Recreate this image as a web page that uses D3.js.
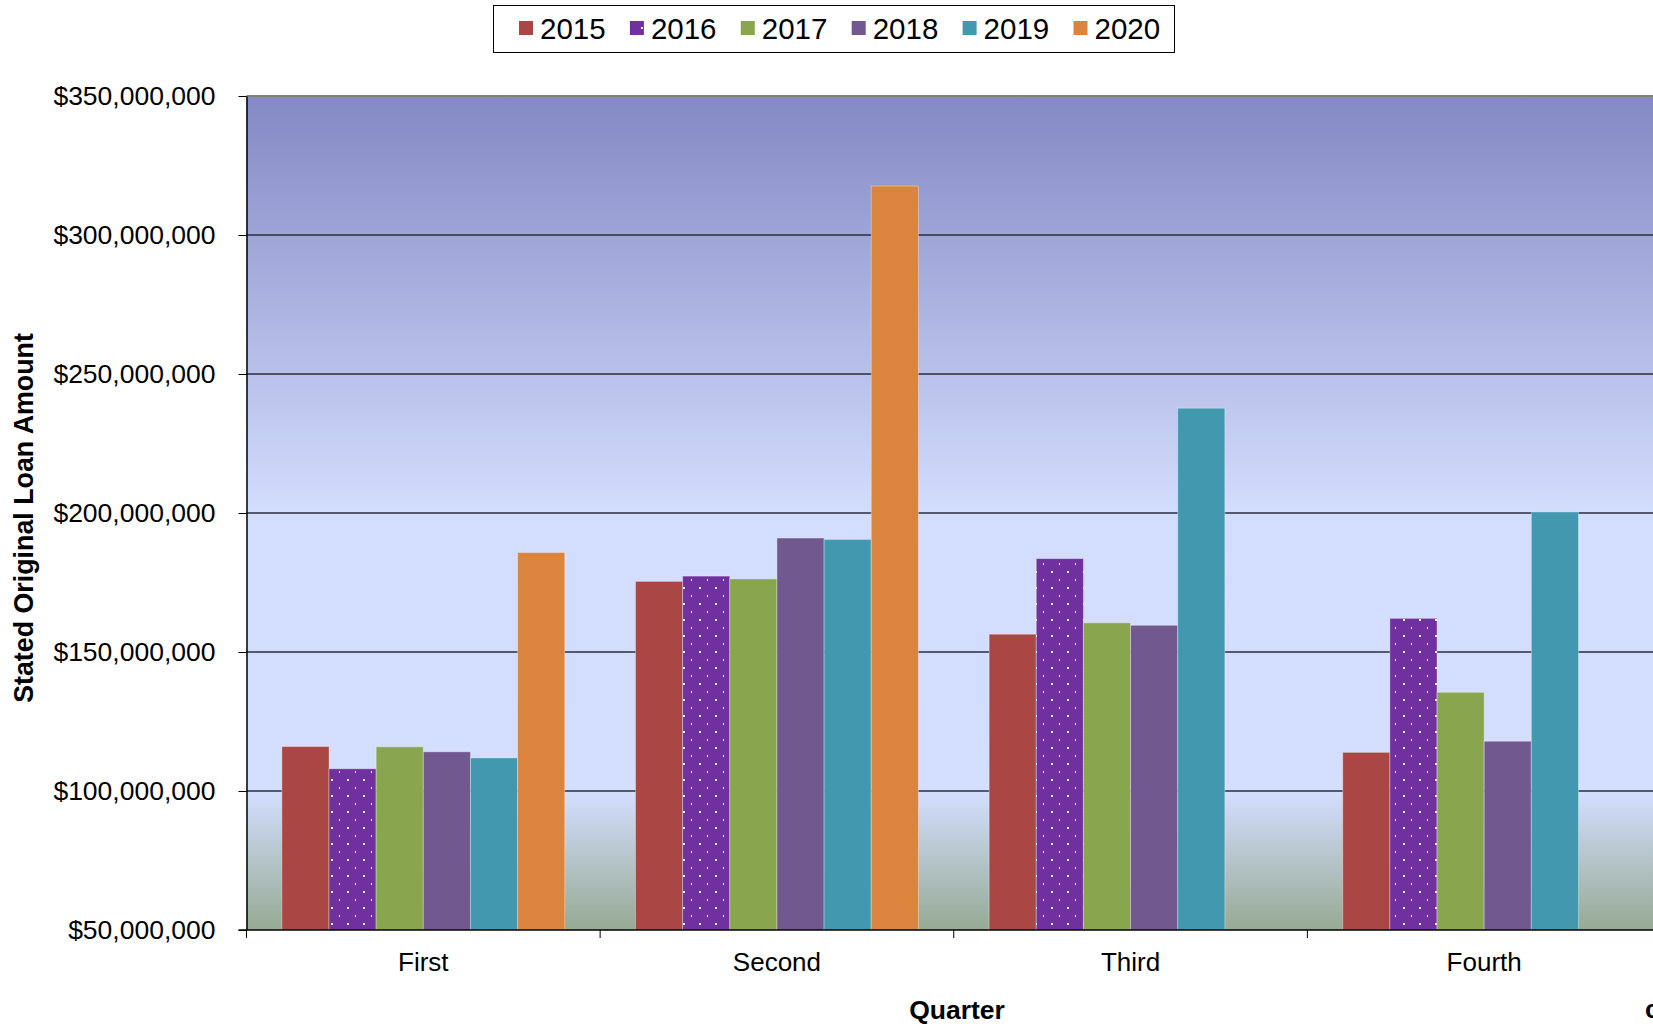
<!DOCTYPE html>
<html>
<head>
<meta charset="utf-8">
<script src="https://cdn.jsdelivr.net/npm/d3@7"></script>
<style>
  html, body { margin: 0; padding: 0; background: #fff; overflow: hidden; }
  svg { display: block; font-family: "Liberation Sans", Arial, sans-serif; }
</style>
</head>
<body>
<div id="canvas"><svg></svg></div>
<script>
var quarters = ["First", "Second", "Third", "Fourth"];
var years = ["2015", "2016", "2017", "2018", "2019", "2020"];
var colors = ["#AA4643", "#7030A0", "#89A54E", "#71588F", "#4198AF", "#DB843D"];

// stated original loan amount, one array per year (First..Fourth), null = no bar
var y2015 = [116.0e6, 175.4e6, 156.4e6, 113.9e6];
var y2016 = [108.0e6, 177.3e6, 183.6e6, 162.1e6];
var y2017 = [115.9e6, 176.3e6, 160.5e6, 135.5e6];
var y2018 = [114.1e6, 191.0e6, 159.6e6, 117.9e6];
var y2019 = [111.9e6, 190.5e6, 237.7e6, 200.4e6];
var y2020 = [185.8e6, 317.6e6, null, null];

var yTicks = [50e6, 100e6, 150e6, 200e6, 250e6, 300e6, 350e6];

var series = [y2015, y2016, y2017, y2018, y2019, y2020];

var width = 1653,
    height = 1027,
    plotLeft = 246.5,
    plotRight = 1661,   // plot runs past the window edge, as in the picture
    plotTop = 96,
    plotBottom = 930;

var svg = d3.select("#canvas svg")
    .attr("width", width)
    .attr("height", height);

var defs = svg.append("defs");

// background of the plot area
var grad = defs.append("linearGradient")
    .attr("id", "plotbg")
    .attr("x1", 0).attr("y1", 0).attr("x2", 0).attr("y2", 1);
grad.append("stop").attr("offset", "0%").attr("stop-color", "#8488C4");
grad.append("stop").attr("offset", "50%").attr("stop-color", "#D3DDFD");
grad.append("stop").attr("offset", "83.4%").attr("stop-color", "#D4DEFF");
grad.append("stop").attr("offset", "100%").attr("stop-color", "#96AA93");

// white dots for 2016
var pat = defs.append("pattern")
    .attr("id", "dots")
    .attr("patternUnits", "userSpaceOnUse")
    .attr("width", 16).attr("height", 16);
pat.append("rect").attr("width", 16).attr("height", 16).attr("fill", colors[1]);
pat.append("rect").attr("x", 3).attr("y", 3).attr("width", 1).attr("height", 2).attr("fill", "#fff");
pat.append("rect").attr("x", 11).attr("y", 11).attr("width", 2).attr("height", 2).attr("fill", "#fff");

function fillFor(i) {
    return i === 1 ? "url(#dots)" : colors[i];
}

var x = d3.scaleBand()
    .domain(quarters)
    .range([plotLeft, plotRight])
    .paddingInner(0.2)
    .paddingOuter(0.1);

var xs = d3.scaleBand()
    .domain(years)
    .range([0, x.bandwidth()]);

var y = d3.scaleLinear()
    .domain([50e6, 350e6])
    .range([plotBottom, plotTop]);

svg.append("rect")
    .attr("x", plotLeft).attr("y", plotTop)
    .attr("width", plotRight - plotLeft).attr("height", plotBottom - plotTop)
    .attr("fill", "url(#plotbg)");

// gridlines
svg.append("g")
    .selectAll("line")
    .data(yTicks.slice(1, -1))
    .enter()
    .append("line")
    .attr("x1", plotLeft).attr("x2", plotRight)
    .attr("y1", function (d) { return y(d); })
    .attr("y2", function (d) { return y(d); })
    .attr("stroke", "#2b2d3c")
    .attr("stroke-width", 1.6);

svg.append("line")
    .attr("x1", plotLeft).attr("x2", plotRight)
    .attr("y1", plotTop).attr("y2", plotTop)
    .attr("stroke", "#808080")
    .attr("stroke-width", 2);

// bars
var rows = [];
series.forEach(function (vals, i) {
    vals.forEach(function (v, j) {
        if (v != null) rows.push({ year: years[i], idx: i, quarter: quarters[j], value: v });
    });
});

svg.append("g")
    .selectAll("rect")
    .data(rows)
    .enter()
    .append("rect")
    .attr("x", function (d) { return x(d.quarter) + xs(d.year); })
    .attr("y", function (d) { return y(d.value); })
    .attr("width", xs.bandwidth())
    .attr("height", function (d) { return y(50e6) - y(d.value); })
    .attr("fill", function (d) { return fillFor(d.idx); })
    .attr("stroke", "rgba(255,255,255,0.35)")
    .attr("stroke-width", 1);

// y axis
var yAxis = svg.append("g")
    .attr("transform", "translate(" + plotLeft + ",0)")
    .call(d3.axisLeft(y)
        .tickValues(yTicks)
        .tickFormat(d3.format("$,.0f"))
        .tickSize(8)
        .tickPadding(23)
        .tickSizeOuter(0));
yAxis.select(".domain").attr("stroke", "#000").attr("stroke-width", 1.5);
yAxis.selectAll(".tick line").attr("stroke", "#000");
yAxis.selectAll("text")
    .attr("fill", "#000")
    .style("font-size", "26.5px")
    .style("font-family", "Liberation Sans, Arial, sans-serif");

// x axis: ticks sit between the quarters
var xAxis = svg.append("g")
    .attr("transform", "translate(0," + plotBottom + ")");
xAxis.append("line")
    .attr("x1", plotLeft - 8).attr("x2", plotRight)
    .attr("stroke", "#000").attr("stroke-width", 1.5);
xAxis.selectAll(".sep")
    .data(quarters)
    .enter()
    .append("line")
    .attr("class", "sep")
    .attr("x1", function (d) { return x(d) - x.step() * x.paddingOuter(); })
    .attr("x2", function (d) { return x(d) - x.step() * x.paddingOuter(); })
    .attr("y1", 0).attr("y2", 8)
    .attr("stroke", "#000");
xAxis.selectAll(".lab")
    .data(quarters)
    .enter()
    .append("text")
    .attr("class", "lab")
    .attr("x", function (d) { return x(d) + x.bandwidth() / 2; })
    .attr("y", 41)
    .attr("text-anchor", "middle")
    .style("font-size", "26px")
    .text(function (d) { return d; });

// axis titles
svg.append("text")
    .attr("transform", "translate(33,518) rotate(-90)")
    .attr("text-anchor", "middle")
    .style("font-size", "26.8px")
    .style("font-weight", "bold")
    .text("Stated Original Loan Amount");

svg.append("text")
    .attr("x", 957)
    .attr("y", 1019)
    .attr("text-anchor", "middle")
    .style("font-size", "26.5px")
    .style("font-weight", "bold")
    .text("Quarter");

svg.append("text")
    .attr("x", 1645)
    .attr("y", 1018)
    .style("font-size", "26px")
    .style("font-weight", "bold")
    .text("c");

// legend
var legend = svg.append("g");
legend.append("rect")
    .attr("x", 493.5).attr("y", 5.5)
    .attr("width", 681).attr("height", 47)
    .attr("fill", "#fff")
    .attr("stroke", "#000")
    .attr("stroke-width", 1);

var item = legend.selectAll(".item")
    .data(years)
    .enter()
    .append("g")
    .attr("class", "item")
    .attr("transform", function (d, i) { return "translate(" + (519 + i * 110.9) + ",0)"; });
item.append("rect")
    .attr("y", 21).attr("width", 14).attr("height", 14)
    .attr("fill", function (d, i) { return fillFor(i); });
item.append("text")
    .attr("x", 21).attr("y", 39)
    .style("font-size", "29.5px")
    .text(function (d) { return d; });
</script>
</body>
</html>
